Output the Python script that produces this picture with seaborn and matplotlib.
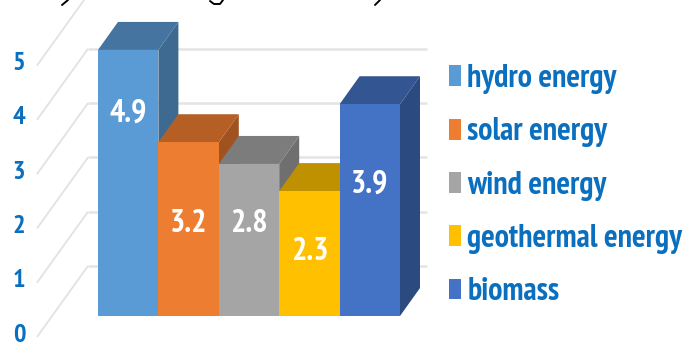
import numpy as np
import pandas as pd
import matplotlib
matplotlib.use("Agg")
import matplotlib.pyplot as plt
from matplotlib.patches import Polygon
import seaborn as sns

sources = ["hydro energy", "solar energy", "wind energy", "geothermal energy", "biomass"]
shares = [4.9, 3.2, 2.8, 2.3, 3.9]
axis_ticks = [0, 1, 2, 3, 4, 5]

front_colors = ["#5B9BD5", "#ED7D31", "#A5A5A5", "#FFC000", "#4472C4"]
top_colors = ["#44749F", "#B55F25", "#7C7C7C", "#BF9000", "#335592"]
side_colors = ["#3E6A91", "#A05320", "#6F6F6F", "#A98000", "#2B4A80"]
label_drop = [1.18, 1.51, 1.11, 1.12, 1.48]

W, H = 688, 345
PX_X, PX_Y = 60.4, 54.3          # pixels per category / per unit
X0_PX, Y0_PX = 98, 316           # pixel position of the left floor corner
DEPTH_X, DEPTH_Y = 20 / PX_X, 28 / PX_Y

sns.set_theme(style="white")
plt.rcParams["font.family"] = ["PT Sans Narrow", "Fira Sans Condensed", "Roboto Condensed", "Liberation Sans", "DejaVu Sans"]
BLUE = "#0A6FBE"

fig = plt.figure(figsize=(W / 100, H / 100), dpi=100)
ax = fig.add_axes([0, 0, 1, 1])

df = pd.DataFrame({"source": sources, "share": shares})
sns.barplot(data=df, x="source", y="share", hue="source", order=sources, hue_order=sources,
            palette=front_colors, width=1.0, saturation=1, legend=True, ax=ax,
            linewidth=0, zorder=10)

ax.set_xlim(-0.5 - X0_PX / PX_X, -0.5 + (W - X0_PX) / PX_X)
ax.set_ylim(-(H - Y0_PX) / PX_Y, Y0_PX / PX_Y)
ax.set_axis_off()

def px_x(p):
    return -0.5 + (p - X0_PX) / PX_X

def px_y(p):
    return (Y0_PX - p) / PX_Y

# Wall grid: a slanted side-wall line and a horizontal back-wall line per tick
for t in axis_ticks:
    start = t - 21 / PX_Y
    rise = 71 / PX_Y
    ax.plot([px_x(37), px_x(88)], [start, start + rise], color="#E2E2E2", lw=1.3, zorder=1,
            solid_capstyle="butt")
    ax.plot([px_x(88), px_x(427)], [start + rise] * 2, color="#E4E4E4", lw=1.8, zorder=1,
            solid_capstyle="butt")
    ax.annotate(str(t), xy=(px_x(19), t), xytext=(0, -19), textcoords="offset pixels",
                ha="center", va="center", color=BLUE, fontsize=19, fontweight="bold", zorder=20)

# Extruded top and side faces, left to right so later bars overlap earlier ones
for i, v in enumerate(shares):
    l, r = i - 0.5, i + 0.5
    z = 2 + 2 * i
    ax.add_patch(Polygon([(r, 0), (r + DEPTH_X, DEPTH_Y), (r + DEPTH_X, v + DEPTH_Y), (r, v)],
                         closed=True, fc=side_colors[i], ec="none", zorder=z))
    ax.add_patch(Polygon([(l, v), (l + DEPTH_X, v + DEPTH_Y), (r + DEPTH_X, v + DEPTH_Y), (r, v)],
                         closed=True, fc=top_colors[i], ec="none", zorder=z + 1))

# Each front face sits above its own extrusion and below the next bar's
for i, patch in enumerate(ax.patches[:len(shares)]):
    patch.set_zorder(3 + 2 * i + 0.5)

for i, v in enumerate(shares):
    ax.text(i, v - label_drop[i], f"{v:.1f}", ha="center", va="center", color="white",
            fontsize=23, fontweight="bold", zorder=30)

# Descender strokes of the heading line that runs off the top edge
ax.plot([px_x(68), px_x(62)], [px_y(0), px_y(5)], color="black", lw=1.4, zorder=40)
ax.plot([px_x(210), px_x(214), px_x(220), px_x(223)], [px_y(1), px_y(4), px_y(4), px_y(0)],
        color="black", lw=1.4, zorder=40)
ax.plot([px_x(380), px_x(375)], [px_y(0), px_y(5)], color="black", lw=1.4, zorder=40)

handles, labels = ax.get_legend_handles_labels()
leg = ax.legend(handles, labels, loc="upper left", bbox_to_anchor=(449 / W, 1 - 64 / H),
                frameon=False, handlelength=0.38, handleheight=0.63,
                handletextpad=0.19, labelspacing=0.73, borderpad=0, borderaxespad=0,
                prop={"weight": "bold", "size": 23})
for text in leg.get_texts():
    text.set_color(BLUE)

fig.savefig("out.png", dpi=100)
